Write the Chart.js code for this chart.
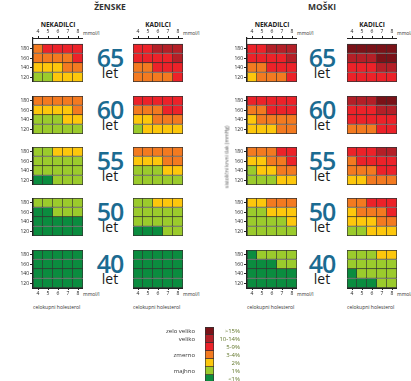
<!DOCTYPE html>
<html>
<head>
<meta charset="utf-8">
<script src="https://cdn.jsdelivr.net/npm/chart.js@4"></script>
<style>
  body { margin: 0; width: 411px; height: 381px; overflow: hidden; background: #fff; position: relative; font-family: 'Open Sans', sans-serif; color: #222; }
  canvas { position: absolute; }
  .t { position: absolute; white-space: nowrap; line-height: 1; }
  .c { transform: translateX(-50%); }
  .head { font-weight: 700; font-size: 8.5px; color: #333; }
  .smoke { font-weight: 700; font-size: 6.5px; color: #222; }
  .small { font-size: 5px; color: #333; }
  .age { font-size: 25px; font-weight: 600; color: #1b6b91; letter-spacing: -1px; }
  .let { font-size: 14px; color: #1a1a1a; }
</style>
</head>
<body>
<script>
// values
const cholesterol = ['4', '5', '6', '7', '8'];
const systolic = [180, 160, 140, 120];
const ages = ['65', '60', '55', '50', '40'];
const riskLabels = ['>15%', '10-14%', '5-9%', '3-4%', '2%', '1%', '<1%'];
const riskGroups = ['zelo veliko', 'veliko', '', 'zmerno', '', 'majhno', ''];
// level 0 (<1%) .. 6 (>15%)
const riskColors = ['#0b8c3f', '#9bcb2c', '#fdc70c', '#f37a20', '#ec2229', '#b41f27', '#7a1218'];

// one grid per age (65, 60, 55, 50, 40), rows = systolic 180..120, cols = cholesterol 4..8
const womenNonSmokers = [
  [[3,4,4,4,4],[3,3,3,3,4],[2,2,2,3,3],[1,1,2,2,2]],
  [[3,3,3,3,3],[2,2,2,2,3],[1,1,1,2,2],[1,1,1,1,1]],
  [[1,1,2,2,2],[1,1,1,1,1],[1,1,1,1,1],[0,0,1,1,1]],
  [[1,1,1,1,1],[0,0,1,1,1],[0,0,0,0,0],[0,0,0,0,0]],
  [[0,0,0,0,0],[0,0,0,0,0],[0,0,0,0,0],[0,0,0,0,0]]
];
const womenSmokers = [
  [[4,4,5,5,5],[4,4,4,4,5],[3,3,4,4,4],[3,3,3,3,4]],
  [[4,4,4,4,4],[3,3,3,4,4],[2,2,3,3,3],[1,2,2,2,2]],
  [[3,3,3,3,3],[2,2,2,3,3],[1,1,1,2,2],[1,1,1,1,1]],
  [[1,1,2,2,2],[1,1,1,1,1],[1,1,1,1,1],[0,0,0,1,1]],
  [[0,0,0,0,0],[0,0,0,0,0],[0,0,0,0,0],[0,0,0,0,0]]
];
const menNonSmokers = [
  [[4,4,5,5,5],[4,4,4,4,5],[3,3,4,4,4],[2,3,3,3,4]],
  [[4,4,4,4,4],[3,3,4,4,4],[2,3,3,3,3],[2,2,2,3,3]],
  [[3,3,3,4,4],[2,2,3,3,4],[1,2,2,3,3],[1,1,1,2,2]],
  [[2,2,3,3,3],[1,1,2,2,2],[1,1,1,1,2],[1,1,1,1,1]],
  [[0,1,1,1,1],[0,0,0,1,1],[0,0,0,0,0],[0,0,0,0,0]]
];
const menSmokers = [
  [[6,6,6,6,6],[5,5,5,6,6],[4,4,4,5,5],[4,4,4,4,4]],
  [[5,5,5,6,6],[4,4,4,5,5],[4,4,4,4,4],[3,3,3,4,4]],
  [[4,4,4,5,5],[3,4,4,4,4],[3,3,3,4,4],[2,2,3,3,3]],
  [[3,3,4,4,4],[2,3,3,3,4],[2,2,2,3,3],[1,1,2,2,2]],
  [[1,1,1,2,2],[1,1,1,1,1],[0,1,1,1,1],[0,0,0,1,1]]
];

const GRID_W = 50, GRID_H = 38;
const rowTops = [44, 96, 147, 198, 250];
const columns = [
  { left: 33, data: womenNonSmokers, title: 'NEKADILCI', yAxis: true },
  { left: 133, data: womenSmokers, title: 'KADILCI', yAxis: false },
  { left: 247, data: menNonSmokers, title: 'NEKADILCI', yAxis: true },
  { left: 347, data: menSmokers, title: 'KADILCI', yAxis: false }
];

Chart.defaults.font.family = "'Open Sans', sans-serif";
Chart.defaults.color = '#222';

function text(str, x, y, cls) {
  const d = document.createElement('div');
  d.className = 't ' + cls;
  d.style.left = x + 'px';
  d.style.top = y + 'px';
  d.textContent = str;
  document.body.appendChild(d);
  return d;
}

function makePanel(levels, left, top, showY, xAxis) {
  const yW = showY ? 18 : 0;
  const xH = xAxis ? 10 : 0;
  const gap = xAxis === 'top' ? 6 : 0;
  const c = document.createElement('canvas');
  c.width = yW + GRID_W;
  c.height = GRID_H + gap + xH;
  c.style.left = (left - yW) + 'px';
  c.style.top = (xAxis === 'top' ? top - gap - xH : top) + 'px';
  document.body.appendChild(c);
  const unitsPerPx = 80 / GRID_H;

  new Chart(c, {
    type: 'bar',
    data: {
      labels: cholesterol,
      datasets: systolic.map((s, r) => ({
        data: cholesterol.map(() => [s - 10, s + 10]),
        backgroundColor: levels[r].map(l => riskColors[l]),
        borderColor: '#333',
        borderWidth: ctx => ({ top: r === 0 ? 1 : 0, left: ctx.dataIndex === 0 ? 1 : 0, right: 1, bottom: 1 }),
        borderSkipped: false,
        barPercentage: 1,
        categoryPercentage: 1,
        grouped: false
      }))
    },
    options: {
      responsive: false,
      animation: false,
      devicePixelRatio: 1,
      events: [],
      layout: { padding: 0 },
      plugins: { legend: { display: false }, tooltip: { enabled: false } },
      scales: {
        x: {
          display: !!xAxis,
          position: xAxis || 'bottom',
          grid: { drawOnChartArea: false, offset: false, tickLength: 2, color: '#222' },
          border: { color: '#222', width: 1 },
          ticks: { font: { size: 5 }, padding: 1, maxRotation: 0, autoSkip: false },
          afterFit: s => { s.height = xH; s.paddingLeft = 0; s.paddingRight = 0; }
        },
        y: {
          display: showY,
          min: 110,
          max: 190 + gap * unitsPerPx,
          grid: { drawOnChartArea: false, tickLength: 3, color: '#222' },
          border: { color: '#222', width: 1.2 },
          ticks: { font: { size: 5 }, padding: 1, autoSkip: false },
          afterBuildTicks: s => { s.ticks = systolic.map(v => ({ value: v })); },
          afterFit: s => { s.width = yW; s.paddingTop = 0; s.paddingBottom = 0; }
        }
      }
    }
  });
}

// headings
text('ŽENSKE', 110, 3, 'head c');
text('MOŠKI', 322, 3, 'head c');

columns.forEach(col => {
  text(col.title, col.left + GRID_W / 2, 22, 'smoke c');
  text('mmol/l', col.left + GRID_W, 30.5, 'small');
  text('mmol/l', col.left + GRID_W, 291.5, 'small');
  text('celokupni holesterol', col.left, 305, 'small');
  ages.forEach((a, i) => {
    const xAxis = i === 0 ? 'top' : (i === ages.length - 1 ? 'bottom' : null);
    makePanel(col.data[i], col.left, rowTops[i], col.yAxis, xAxis);
  });
});

[110, 322].forEach(cx => {
  ages.forEach((a, i) => {
    text(a, cx, rowTops[i] + 1, 'age c');
    text('let', cx, rowTops[i] + 22, 'let c');
  });
});

const side = text('sistolični krvni tlak (mmHg)', 227, 157, 'small');
side.style.transform = 'translate(-50%, -50%) rotate(-90deg)';
side.style.color = '#555';

// legend
const lc = document.createElement('canvas');
lc.width = 90;
lc.height = 56;
lc.style.left = '150px';
lc.style.top = '327px';
document.body.appendChild(lc);
new Chart(lc, {
  type: 'bar',
  data: {
    labels: riskLabels,
    datasets: [{
      data: riskLabels.map(() => 1),
      backgroundColor: riskLabels.map((_, i) => riskColors[riskLabels.length - 1 - i]),
      borderColor: '#333',
      borderWidth: ctx => ({ top: ctx.dataIndex === 0 ? 1 : 0, left: 1, right: 1, bottom: 1 }),
      borderSkipped: false,
      barPercentage: 1,
      categoryPercentage: 1
    }]
  },
  options: {
    indexAxis: 'y',
    responsive: false,
    animation: false,
    devicePixelRatio: 1,
    events: [],
    layout: { padding: 0 },
    plugins: { legend: { display: false }, tooltip: { enabled: false } },
    scales: {
      x: { display: false, min: 0, max: 1 },
      y: {
        position: 'left',
        grid: { display: false },
        border: { display: false },
        ticks: { font: { size: 6 }, color: '#333', padding: 2, autoSkip: false, callback: (v, i) => riskGroups[i] },
        afterFit: s => { s.width = 55; s.paddingTop = 0; s.paddingBottom = 0; }
      },
      y2: {
        type: 'category',
        labels: riskLabels,
        position: 'right',
        grid: { display: false },
        border: { display: false },
        ticks: { font: { size: 6 }, color: '#5f7427', padding: 2, crossAlign: 'far', autoSkip: false },
        afterFit: s => { s.width = 26; s.paddingTop = 0; s.paddingBottom = 0; }
      }
    }
  }
});
</script>
</body>
</html>
